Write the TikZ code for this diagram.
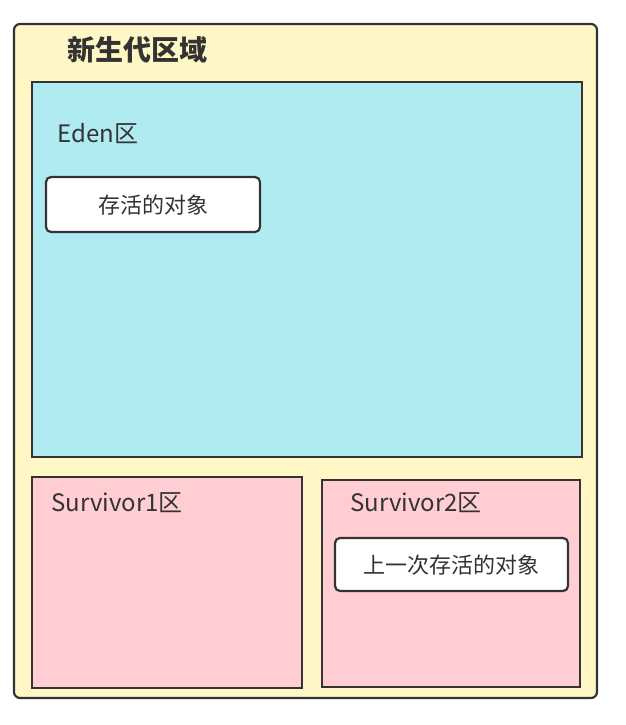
\documentclass[tikz,border=0pt]{standalone}
\usepackage{fontspec}
\setmainfont{Noto Sans CJK SC}
\definecolor{edge}{HTML}{333333}
\definecolor{yellowbg}{HTML}{FFF7C6}
\definecolor{edenbg}{HTML}{B1EBF2}
\definecolor{survbg}{HTML}{FFCDD2}
\tikzset{
  area/.style={draw=edge,line width=2.2pt},
  objbox/.style={draw=edge,line width=2.2pt,fill=white,rounded corners=5pt},
  lbl/.style={text=edge,font=\fontsize{24}{28}\selectfont}
}
\begin{document}
\begin{tikzpicture}[x=1pt,y=-1pt]
\useasboundingbox (0,0) rectangle (626,725);
\draw[area,fill=yellowbg,rounded corners=6pt] (14,24) rectangle (597,698);
\draw[area,fill=edenbg] (32,82) rectangle (582,457);
\draw[area,fill=survbg] (32,477) rectangle (302,688);
\draw[area,fill=survbg] (322,480) rectangle (580,687);
\draw[objbox] (46,177) rectangle (260,232);
\draw[objbox] (335,538) rectangle (568,591);

\node[text=edge,font=\fontsize{28}{32}\selectfont\bfseries] (title) at (137,50) {新生代区域};
\node[lbl] (eden) at (98,134) {Eden区};
\node[lbl,font=\fontsize{22}{26}\selectfont] (obj1) at (153,205) {存活的对象};
\node[lbl] (s1) at (117,503) {Survivor1区};
\node[lbl] (s2) at (416,503) {Survivor2区};
\node[lbl,font=\fontsize{22}{26}\selectfont] (obj2) at (451,565) {上一次存活的对象};
\end{tikzpicture}
\end{document}
